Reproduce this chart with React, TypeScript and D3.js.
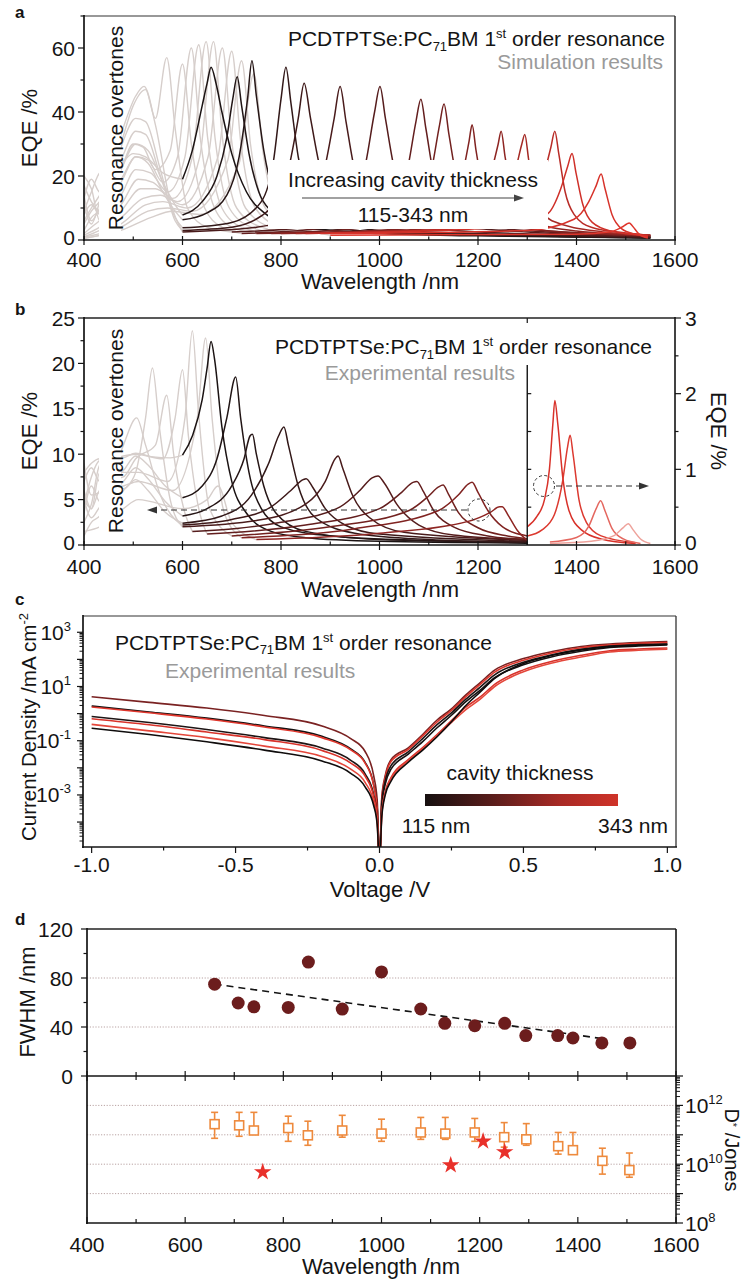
import React from "react";
import * as d3 from "d3";

type Pt = [number, number];

const FONT = "'Liberation Sans', Arial, Helvetica, sans-serif";

// ---------- shared ticks ----------
const wavelengthTicks = [400, 600, 800, 1000, 1200, 1400, 1600];
const wavelengthMinor = [500, 700, 900, 1100, 1300, 1500];

// ---------- panel a : simulated EQE ----------
const simEqeTicks = [0, 20, 40, 60];
const simEqeMinor = [10, 30, 50, 70];

const simResonance: Pt[][] = [
  [[600,19],[620,28],[640,42],[650,49],[658,54],[668,49],[680,40],[700,27],[730,15],[770,8],[820,4.5],[900,3],[1000,2.2],[1200,1.5],[1400,1],[1550,0.6]],
  [[600,7.8],[640,12],[670,20],[690,32],[702,44],[711,51],[720,42],[735,27],[755,15],[780,9],[830,5],[900,3],[1000,2],[1200,1.3],[1550,0.6]],
  [[600,6.3],[650,8.5],[690,14],[715,26],[732,44],[741,56],[750,45],[765,28],[785,15],[820,8],[880,4],[950,3],[1100,2],[1550,0.8]],
  [[600,3.8],[700,5.5],[760,12],[785,25],[800,44],[810,54],[820,43],[835,26],[860,13],[900,7],[950,4],[1100,2],[1550,0.8]],
  [[600,3],[700,4],[780,10],[815,22],[835,38],[847,49],[860,38],[880,22],[910,11],[960,5.5],[1050,3],[1200,2],[1550,0.8]],
  [[600,2.5],[750,4],[850,9],[888,22],[908,38],[920,48],[932,37],[952,20],[985,10],[1050,5],[1150,3],[1550,1]],
  [[700,2.5],[850,4],[940,10],[972,24],[990,40],[1001,48],[1012,38],[1035,19],[1075,9],[1150,4.5],[1300,2.5],[1550,1]],
  [[720,2],[900,4],[1020,9],[1058,23],[1074,37],[1084,44],[1094,35],[1115,17],[1155,8],[1250,3.5],[1550,1.2]],
  [[750,2],[950,3.5],[1075,9],[1107,23],[1122,36],[1131,42.5],[1141,33],[1162,16],[1200,8],[1300,3.5],[1550,1.3]],
  [[780,2],[1050,3.5],[1145,10],[1172,23],[1182,31],[1188,36],[1196,28],[1212,15],[1245,7],[1330,3],[1550,1.4]],
  [[800,2],[1100,3.5],[1205,10],[1230,23],[1241,30],[1247,34],[1255,26],[1272,13],[1305,6],[1400,2.8],[1550,1.5]],
  [[830,2],[1150,3.5],[1253,10],[1278,23],[1289,30],[1295,33],[1303,25],[1320,12],[1350,6],[1450,2.6],[1550,1.6]],
  [[850,2],[1200,4],[1300,9],[1333,20],[1348,29],[1356,34],[1364,27],[1377,15],[1395,8],[1430,4],[1500,2.2],[1545,1.5]],
  [[880,2],[1250,4],[1340,8],[1368,16],[1382,23],[1391,27],[1399,21],[1413,11],[1432,5.5],[1470,2.8],[1545,1.4]],
  [[900,2],[1300,3],[1395,6.5],[1425,12],[1440,17],[1450,20.6],[1458,16],[1472,8],[1492,3.5],[1520,1.8],[1545,1]],
  [[900,1.5],[1400,1.8],[1470,2.6],[1492,4],[1502,5],[1507,5.3],[1514,4.3],[1526,2],[1545,0.6]],
];

const simOvertones: Pt[][] = [
  [[400,9],[415,15],[432,21],[475,24],[500,27],[525,26],[560,21],[600,19]],
  [[400,17],[415,12],[432,9],[475,22],[505,30],[530,28],[560,18],[585,11],[600,7.8]],
  [[400,13],[415,19],[432,15],[475,19],[505,26],[530,24],[560,15],[585,9],[600,6.3]],
  [[400,6],[415,10],[432,14],[475,25],[505,34],[525,33],[555,20],[585,7],[600,3.8]],
  [[400,20],[415,16],[432,6],[475,29],[505,38],[525,37],[555,22],[585,6],[600,3]],
  [[400,11],[415,5],[432,12],[475,33],[505,45],[522,48],[545,36],[575,12],[600,2.5]],
  [[400,8],[415,11],[432,8],[475,30],[500,42],[525,47],[545,38],[568,57],[585,35],[610,10],[650,4],[700,2.5]],
  [[400,14],[415,6],[432,10],[475,22],[500,30],[520,29],[545,22],[575,28],[600,55],[618,30],[645,10],[680,4],[720,2]],
  [[400,5],[415,9],[432,12],[475,18],[505,26],[530,25],[560,18],[590,26],[618,60],[636,32],[665,10],[700,4],[750,2]],
  [[400,3],[415,7],[432,9],[475,14],[505,22],[535,21],[570,15],[605,26],[633,61],[651,32],[680,10],[720,4],[780,2]],
  [[400,2],[415,4],[432,6],[475,11],[510,19],[540,18],[580,13],[620,26],[648,62],[666,32],[695,10],[740,4],[800,2]],
  [[400,1.5],[432,4],[475,9],[515,16],[545,16],[590,12],[635,26],[663,62],[681,32],[710,10],[760,4],[830,2]],
  [[400,1],[432,3],[475,7],[520,13],[555,14],[600,11],[652,26],[681,60],[699,32],[728,10],[780,4],[850,2]],
  [[400,1],[432,2],[475,5],[525,11],[560,12],[610,10],[672,26],[700,59],[718,31],[748,10],[800,4],[880,2]],
  [[400,0.5],[432,1.5],[475,4],[530,9],[570,10],[620,9],[692,25],[720,56],[738,30],[768,10],[820,4],[900,2]],
  [[400,0.5],[475,3],[535,7],[580,9],[635,8],[715,24],[745,52],[763,28],[790,10],[840,4],[900,1.5]],
];

// ---------- panel b : experimental EQE ----------
const expEqeTicks = [0, 5, 10, 15, 20, 25];
const expEqeMinor = [2.5, 7.5, 12.5, 17.5, 22.5];
const expEqeRightTicks = [0, 1, 2, 3];
const expEqeRightMinor = [0.5, 1.5, 2.5];

const expResonanceLeft: Pt[][] = [
  [[600,9.9],[620,12],[640,16],[650,19.5],[658,22.4],[665,20.5],[680,13],[700,7],[730,3.5],[780,1.5],[850,0.8],[1000,0.4],[1300,0.2]],
  [[600,5.2],[640,6.5],[670,9.5],[690,14],[708,18.5],[718,14],[735,8],[760,4],[800,2],[900,1],[1100,0.5],[1300,0.3]],
  [[600,3.2],[650,4],[700,6.5],[725,9.5],[737,12],[742,12.2],[750,10],[765,6.5],[790,3.5],[850,1.5],[1000,0.6],[1300,0.3]],
  [[600,2.4],[680,3.2],[740,5.5],[775,9],[795,12],[806,13],[815,11],[835,6.5],[870,3],[950,1.3],[1100,0.6],[1300,0.3]],
  [[600,2.2],[700,2.8],[780,4.2],[820,6],[845,7.2],[851,7.3],[865,6.3],[890,4],[930,2.2],[1000,1.2],[1300,0.4]],
  [[600,2],[750,2.7],[850,4.5],[890,7],[910,9.5],[916,9.8],[925,8.5],[945,5.5],[980,3],[1050,1.4],[1300,0.5]],
  [[620,1.5],[800,2.5],[920,4.2],[960,6],[985,7.4],[997,7.6],[1010,6.8],[1035,4.5],[1080,2.2],[1150,1.1],[1300,0.6]],
  [[650,1.2],[850,2.2],[1000,4],[1045,5.8],[1068,6.9],[1076,7],[1088,6],[1110,3.8],[1150,2],[1220,1],[1300,0.6]],
  [[700,1],[900,2],[1060,3.8],[1100,5.4],[1120,6.4],[1129,6.6],[1140,5.6],[1160,3.6],[1200,1.9],[1260,1],[1300,0.7]],
  [[720,0.8],[950,1.8],[1120,3.8],[1160,5.5],[1180,6.7],[1188,6.9],[1200,5.8],[1220,3.8],[1250,2],[1300,1]],
  [[750,0.6],[1000,1.3],[1180,2.6],[1225,3.6],[1244,4.2],[1249,4.2],[1262,3.2],[1280,1.6],[1300,0.5]],
];

const expResonanceRight: Pt[][] = [
  [[1300,0.24],[1320,0.38],[1335,0.6],[1345,1.0],[1352,1.6],[1356,1.91],[1362,1.6],[1372,0.9],[1385,0.45],[1410,0.2],[1450,0.08],[1520,0.02]],
  [[1300,0.12],[1330,0.2],[1355,0.4],[1372,0.85],[1382,1.3],[1387,1.45],[1393,1.2],[1405,0.6],[1420,0.3],[1450,0.12],[1520,0.03]],
  [[1346,0.04],[1400,0.1],[1425,0.25],[1440,0.48],[1449,0.585],[1458,0.45],[1472,0.22],[1495,0.08],[1530,0.02]],
  [[1346,0.02],[1430,0.05],[1475,0.12],[1495,0.23],[1505,0.28],[1515,0.2],[1530,0.08],[1550,0.02]],
];
const expRightColors = ["#d8322a", "#dc3a30", "#e4675f", "#eea29b"];

const expOvertones: Pt[][] = [
  [[400,4.5],[415,7.5],[432,9.3],[480,9.6],[505,10.1],[540,9.7],[575,9.6],[600,9.9]],
  [[400,9],[415,5.5],[432,5.8],[480,8.2],[505,9.8],[530,8.8],[565,6.5],[600,5.2]],
  [[400,3.5],[415,6.5],[432,4.8],[480,7],[505,8.5],[530,7.3],[565,4.8],[600,3.2]],
  [[400,6],[415,4],[432,8],[480,6.2],[505,7.2],[530,6],[565,3.6],[600,2.4]],
  [[400,1],[415,2.5],[432,3.2],[480,11],[507,14],[525,11],[555,5.5],[585,2.8],[600,2.2]],
  [[400,5],[415,3],[432,4.2],[480,6],[505,8],[525,14],[539,19.5],[553,13],[575,5],[600,2]],
  [[400,7],[415,8.5],[432,7],[480,7.5],[505,9.5],[545,11],[568,16.5],[582,10],[605,3.5],[620,1.5]],
  [[400,2.5],[415,4.5],[432,8.8],[480,9.8],[505,10],[560,9.5],[585,14],[600,19.3],[612,12],[635,3.5],[650,1.2]],
  [[400,8],[415,9],[432,9.5],[480,8],[510,8],[570,7],[605,14],[620,23.6],[632,15],[655,4],[700,1]],
  [[400,5],[415,4],[432,6],[480,6.5],[510,7],[580,6],[630,14],[647,22.8],[660,14],[685,3.5],[720,0.8]],
  [[400,1.5],[432,2],[480,4],[510,5],[600,4],[650,5],[672,6.5],[700,2.5],[750,0.6]],
];

// ---------- panel c : J-V ----------
const voltageTicks = [-1, -0.5, 0, 0.5, 1];
const voltageMinor = [-0.75, -0.25, 0.25, 0.75];
const currentDecades = [-4, -3, -2, -1, 0, 1, 2, 3];
const currentLabelled = [3, 1, -1, -3];

const jvVoltage = [-1, -0.8, -0.6, -0.4, -0.2, -0.1, -0.05, -0.02, -0.008, 0, 0.008, 0.02, 0.04, 0.1, 0.15, 0.2, 0.25, 0.3, 0.35, 0.4, 0.5, 0.6, 0.7, 0.8, 0.9, 1.0];
const jvCurves: number[][] = [
  [4.2,2.6,1.6,0.85,0.35,0.12,0.04,0.005,0.00063,3e-6, 0.00083,0.0052,0.02,0.055,0.17,0.58,1.5,4.9,14,40,107,195,300,370,420,450],
  [1.9,1.15,0.68,0.35,0.145,0.05,0.016,0.0023,0.00034,3e-6, 0.0004,0.0025,0.0089,0.032,0.093,0.3,0.87,2.75,7.4,21,63,126,200,275,310,340],
  [1.75,1.07,0.63,0.32,0.13,0.046,0.015,0.0022,0.00032,3e-6, 0.00069,0.0044,0.017,0.048,0.15,0.49,1.3,4.2,12,34,93,174,270,340,390,415],
  [0.78,0.47,0.26,0.13,0.054,0.019,0.006,0.001,0.00017,3e-6, 0.00052,0.0033,0.012,0.039,0.12,0.39,1.07,3.4,9.5,27,78,148,234,310,350,370],
  [0.65,0.39,0.21,0.11,0.044,0.015,0.0049,0.00085,0.00015,3e-6, 0.00021,0.0013,0.0044,0.02,0.056,0.17,0.55,1.74,4.1,12,41,85,141,209,240,263],
  [0.4,0.23,0.13,0.063,0.026,0.0089,0.0029,0.00054,0.0001,3e-6, 0.0002,0.0012,0.0038,0.018,0.05,0.15,0.47,1.4,3.4,10,35,74,122,188,216,236],
  [0.29,0.17,0.091,0.045,0.018,0.0063,0.002,0.0004,0.00008,3e-6, 0.00016,0.001,0.0032,0.016,0.045,0.14,0.5,2.0,6.3,20,71,141,224,295,331,363],
];
const jvColors = ["#7a2222", "#151111", "#e0362c", "#1d1414", "#d8332b", "#e4473b", "#0f0c0c"];

// ---------- panel d : FWHM and D* ----------
const fwhmTicks = [0, 40, 80, 120];
const fwhmMinor = [20, 60, 100];
const fwhmWavelength = [660, 708, 740, 810, 851, 920, 1000, 1080, 1129, 1190, 1251, 1294, 1359, 1390, 1449, 1506];
const fwhmValue = [75, 59.6, 56.5, 56, 93, 54.6, 85, 54.7, 43, 41, 43, 33, 33, 31, 27, 27];
const fwhmFit: Pt[] = [[660, 75], [1450, 30.5]];

const detDecades = [8, 9, 10, 11, 12, 13];
const detLabelled = [12, 10, 8];
const detGrid = [1e9, 1e10, 1e11, 1e12];
const detWavelength = [660, 710, 740, 810, 850, 920, 1000, 1080, 1130, 1190, 1250, 1295, 1360, 1390, 1450, 1505];
const detValue = [2.3e11, 2.1e11, 1.4e11, 1.7e11, 9.6e10, 1.4e11, 1.1e11, 1.2e11, 1.1e11, 1.2e11, 8.3e10, 7e10, 4.1e10, 3e10, 1.3e10, 6.3e9];
const detHigh = [5.8e11, 5.8e11, 5.8e11, 4.3e11, 2.9e11, 4.6e11, 3.4e11, 3.9e11, 3.9e11, 3.6e11, 2.6e11, 2.4e11, 1.2e11, 1.2e11, 3.5e10, 2.4e10];
const detLow = [7.6e10, 8.9e10, 1.1e11, 6e10, 4.4e10, 8.3e10, 6e10, 7e10, 7e10, 6e10, 3.8e10, 4.4e10, 2.2e10, 2.2e10, 4.6e9, 3.6e9];
const starWavelength = [758, 1141, 1207, 1251];
const starValue = [5.4e9, 9.3e9, 6e10, 2.6e10];

const resColor = d3
  .scaleLinear<string>()
  .domain([0, 2, 6, 10, 13, 15])
  .range(["#1b1313", "#261616", "#551c1c", "#8e2522", "#cf3029", "#df362c"])
  .interpolate(d3.interpolateRgb);

const INK = "#141414";
const GREY_TXT = "#9a9a9a";
const OVERTONE = "#d6cecb";

function minorLog(decades: number[]): number[] {
  const out: number[] = [];
  for (let i = 0; i < decades.length - 1; i++) {
    for (let m = 2; m <= 9; m++) out.push(m * Math.pow(10, decades[i]));
  }
  return out;
}

export default function App() {
  const xA = d3.scaleLinear().domain([400, 1600]).range([84, 675]);
  const yA = d3.scaleLinear().domain([0, 70]).range([240, 16]);
  const yBL = d3.scaleLinear().domain([0, 25]).range([545, 318]);
  const yBR = d3.scaleLinear().domain([0, 3]).range([545, 318]);
  const xC = d3.scaleLinear().domain([-1.03, 1.03]).range([83, 676]);
  const yC = d3.scaleLog().domain([Math.pow(10, -4.92), Math.pow(10, 3.6)]).range([847, 616]);
  const xD = d3.scaleLinear().domain([400, 1600]).range([87, 676]);
  const yDt = d3.scaleLinear().domain([0, 120]).range([1076, 929]);
  const yDb = d3.scaleLog().domain([1e8, 1e13]).range([1223, 1076]);

  const mk = (xs: any, ys: any) =>
    d3.line<Pt>().x((d) => xs(d[0])).y((d) => ys(d[1])).curve(d3.curveMonotoneX);
  const lineA = mk(xA, yA);
  const lineBL = mk(xA, yBL);
  const lineBR = mk(xA, yBR);
  const lineC = mk(xC, yC);

  const tk = (key: string, x1: number, y1: number, x2: number, y2: number, w = 1.2) => (
    <line key={key} x1={x1} y1={y1} x2={x2} y2={y2} stroke={INK} strokeWidth={w} />
  );

  const starPath = d3.symbol().type(d3.symbolStar).size(95)() as string;

  const makeTitle = (sub: number) => (
    <>
      PCDTPTSe:PC<tspan dy={sub} fontSize={13}>71</tspan>
      <tspan dy={-sub}>BM 1</tspan>
      <tspan dy={-8} fontSize={13}>st</tspan>
      <tspan dy={8}> order resonance</tspan>
    </>
  );
  const title = makeTitle(5);

  const xBreak = xA(1300);
  const AX = 22; // axis title font size

  return (
    <svg
      width={746}
      height={1285}
      style={{ position: "absolute", left: 0, top: 0, background: "#fff" }}
      fontFamily={FONT}
    >
      <defs>
        <clipPath id="clipA"><rect x={84} y={16} width={591} height={224} /></clipPath>
        <clipPath id="clipBL"><rect x={84} y={318} width={xBreak - 84} height={227} /></clipPath>
        <clipPath id="clipBR"><rect x={xBreak} y={318} width={675 - xBreak} height={227} /></clipPath>
        <clipPath id="clipC"><rect x={83} y={616} width={593} height={231} /></clipPath>
        <linearGradient id="cbar" x1="0" x2="1" y1="0" y2="0">
          <stop offset="0" stopColor="#161010" />
          <stop offset="0.35" stopColor="#5a1d1b" />
          <stop offset="0.7" stopColor="#a82a25" />
          <stop offset="1" stopColor="#cf3329" />
        </linearGradient>
      </defs>
      <rect x={0} y={0} width={746} height={1285} fill="#fff" />

      {/* ================= PANEL A ================= */}
      <text x={15} y={18} fontSize={17} fontWeight="bold" fill={INK}>a</text>
      <g clipPath="url(#clipA)" fill="none" strokeWidth={1.4}>
        {simOvertones.map((c, i) => (
          <path key={"ga" + i} d={lineA(c) as string} stroke={OVERTONE} />
        ))}
        {simResonance.map((c, i) => (
          <path key={"ra" + i} d={lineA(c) as string} stroke={resColor(i)} strokeWidth={1.5} />
        ))}
      </g>
      {/* white masks */}
      <rect x={99} y={17} width={22} height={222} fill="#fff" />
      <rect x={268} y={160} width={280} height={69} fill="#fff" />
      <text transform="translate(123,128) rotate(-90)" textAnchor="middle" fontSize={21} fill={INK}>Resonance overtones</text>
      <text x={665} y={46} textAnchor="end" fontSize={21} fill={INK}>{title}</text>
      <text x={663} y={69} textAnchor="end" fontSize={21} fill={GREY_TXT}>Simulation results</text>
      <text x={413} y={187} textAnchor="middle" fontSize={21} fill={INK}>Increasing cavity thickness</text>
      <line x1={302} y1={198} x2={516} y2={198} stroke="#444" strokeWidth={1.2} />
      <path d="M524,198 L514,194.5 L514,201.5 Z" fill="#444" />
      <text x={413} y={222} textAnchor="middle" fontSize={21} fill={INK}>115-343 nm</text>
      {/* frame */}
      <line x1={84} y1={16} x2={675} y2={16} stroke="#333" strokeWidth={1.2} />
      <line x1={675} y1={16} x2={675} y2={240} stroke="#222" strokeWidth={1.4} />
      <line x1={84} y1={15} x2={84} y2={241} stroke={INK} strokeWidth={1.7} />
      <line x1={83} y1={240} x2={676} y2={240} stroke={INK} strokeWidth={1.7} />
      {simEqeTicks.map((v) => tk("at" + v, 78, yA(v), 84, yA(v)))}
      {simEqeMinor.map((v) => tk("am" + v, 80.5, yA(v), 84, yA(v)))}
      {simEqeTicks.map((v) => (
        <text key={"al" + v} x={75} y={yA(v) + (v === 0 ? 5 : 7.5)} textAnchor="end" fontSize={21} fill={INK}>{v}</text>
      ))}
      {wavelengthTicks.map((v) => tk("ab" + v, xA(v), 236, xA(v), 245))}
      {wavelengthMinor.map((v) => tk("abm" + v, xA(v), 236.5, xA(v), 240))}
      {wavelengthTicks.map((v) => (
        <text key={"abl" + v} x={xA(v)} y={267} textAnchor="middle" fontSize={21} fill={INK}>{v}</text>
      ))}
      <text x={380} y={289} textAnchor="middle" fontSize={AX} fill={INK}>Wavelength /nm</text>
      <text transform="translate(37,128) rotate(-90)" textAnchor="middle" fontSize={AX} fill={INK}>EQE /%</text>

      {/* ================= PANEL B ================= */}
      <text x={15} y={315} fontSize={17} fontWeight="bold" fill={INK}>b</text>
      <g clipPath="url(#clipBL)" fill="none" strokeWidth={1.4}>
        {expOvertones.map((c, i) => (
          <path key={"gb" + i} d={lineBL(c) as string} stroke={OVERTONE} />
        ))}
        {expResonanceLeft.map((c, i) => (
          <path key={"rb" + i} d={lineBL(c) as string} stroke={resColor(i)} strokeWidth={1.5} />
        ))}
      </g>
      <g clipPath="url(#clipBR)" fill="none" strokeWidth={1.5}>
        {expResonanceRight.map((c, i) => (
          <path key={"rbr" + i} d={lineBR(c) as string} stroke={expRightColors[i]} />
        ))}
      </g>
      <rect x={99} y={319} width={22} height={225} fill="#fff" />
      <text transform="translate(123,431) rotate(-90)" textAnchor="middle" fontSize={21} fill={INK}>Resonance overtones</text>
      <text x={652} y={354} textAnchor="end" fontSize={21} fill={INK}>{title}</text>
      <text x={515} y={380} textAnchor="end" fontSize={21} fill={GREY_TXT}>Experimental results</text>
      {/* dashed circles + arrows */}
      <circle cx={479} cy={510} r={11} fill="none" stroke="#333" strokeWidth={1} strokeDasharray="3,2.5" />
      <line x1={467} y1={510} x2={156} y2={510} stroke="#333" strokeWidth={1} strokeDasharray="6,4" />
      <path d="M147,510 L157,506.5 L157,513.5 Z" fill="#333" />
      <circle cx={544} cy={486} r={10.5} fill="none" stroke="#333" strokeWidth={1} strokeDasharray="3,2.5" />
      <line x1={556} y1={486} x2={640} y2={486} stroke="#333" strokeWidth={1} strokeDasharray="6,4" />
      <path d="M649,486 L639,482.5 L639,489.5 Z" fill="#333" />
      {/* break axis */}
      <line x1={xBreak} y1={yBR(2.38)} x2={xBreak} y2={545} stroke={INK} strokeWidth={1.4} />
      {[0.5, 1, 1.5, 2].map((v) => tk("brk" + v, xBreak, yBR(v), xBreak + 4, yBR(v)))}
      {tk("brtop", xBreak, 318, xBreak, 323)}
      {/* frame */}
      <line x1={84} y1={318} x2={675} y2={318} stroke="#222" strokeWidth={1.4} />
      <line x1={675} y1={317} x2={675} y2={546} stroke={INK} strokeWidth={1.6} />
      <line x1={84} y1={317} x2={84} y2={546} stroke={INK} strokeWidth={1.7} />
      <line x1={83} y1={545} x2={676} y2={545} stroke={INK} strokeWidth={1.7} />
      {expEqeTicks.map((v) => tk("bt" + v, 78, yBL(v), 84, yBL(v)))}
      {expEqeMinor.map((v) => tk("bm" + v, 80.5, yBL(v), 84, yBL(v)))}
      {expEqeTicks.map((v) => (
        <text key={"bl" + v} x={75} y={yBL(v) + (v === 0 ? 5 : 7.5)} textAnchor="end" fontSize={21} fill={INK}>{v}</text>
      ))}
      {expEqeRightTicks.map((v) => tk("brt" + v, 675, yBR(v), 681, yBR(v)))}
      {expEqeRightMinor.map((v) => tk("brm" + v, 675, yBR(v), 678.5, yBR(v)))}
      {expEqeRightTicks.map((v) => (
        <text key={"brl" + v} x={685} y={yBR(v) + (v === 0 ? 5 : 7.5)} fontSize={21} fill={INK}>{v}</text>
      ))}
      {wavelengthTicks.map((v) => tk("bb" + v, xA(v), 541, xA(v), 550))}
      {wavelengthMinor.map((v) => tk("bbm" + v, xA(v), 541.5, xA(v), 545))}
      {wavelengthTicks.map((v) => (
        <text key={"bbl" + v} x={xA(v)} y={574} textAnchor="middle" fontSize={21} fill={INK}>{v}</text>
      ))}
      <text x={380} y={597} textAnchor="middle" fontSize={AX} fill={INK}>Wavelength /nm</text>
      <text transform="translate(37,431) rotate(-90)" textAnchor="middle" fontSize={AX} fill={INK}>EQE /%</text>
      <text transform="translate(711,431) rotate(90)" textAnchor="middle" fontSize={AX} fill={INK}>EQE /%</text>

      {/* ================= PANEL C ================= */}
      <text x={15} y={605} fontSize={17} fontWeight="bold" fill={INK}>c</text>
      <g clipPath="url(#clipC)" fill="none" strokeWidth={1.6}>
        {jvCurves.map((c, i) => (
          <path
            key={"jv" + i}
            d={lineC(jvVoltage.map((v, k) => [v, c[k]] as Pt)) as string}
            stroke={jvColors[i]}
          />
        ))}
      </g>
      <text x={492} y={650} textAnchor="end" fontSize={21} fill={INK}>{makeTitle(4)}</text>
      <text x={165} y={678} fontSize={21} fill={GREY_TXT}>Experimental results</text>
      <text x={520} y={780} textAnchor="middle" fontSize={21} fill={INK}>cavity thickness</text>
      <rect x={425} y={794} width={193} height={12} fill="url(#cbar)" />
      <text x={436} y={833} textAnchor="middle" fontSize={21} fill={INK}>115 nm</text>
      <text x={668} y={833} textAnchor="end" fontSize={21} fill={INK}>343 nm</text>
      {/* frame */}
      <line x1={83} y1={616} x2={676} y2={616} stroke="#333" strokeWidth={1.2} />
      <line x1={676} y1={616} x2={676} y2={847} stroke="#333" strokeWidth={1.3} />
      <line x1={83} y1={615} x2={83} y2={848} stroke={INK} strokeWidth={1.7} />
      <line x1={82} y1={847} x2={677} y2={847} stroke={INK} strokeWidth={1.7} />
      {currentDecades.map((e) => tk("cd" + e, 77, yC(Math.pow(10, e)), 83, yC(Math.pow(10, e))))}
      {minorLog([-5, ...currentDecades])
        .filter((v) => v > Math.pow(10, -4.92) && v < Math.pow(10, 3.6))
        .map((v, i) => tk("cm" + i, 79.5, yC(v), 83, yC(v), 1))}
      {currentLabelled.map((e) => (
        <text key={"cl" + e} x={71} y={yC(Math.pow(10, e)) + 7.5} textAnchor="end" fontSize={21} fill={INK}>
          10<tspan dy={-9} fontSize={13}>{e}</tspan>
        </text>
      ))}
      {voltageTicks.map((v) => tk("cv" + v, xC(v), 847, xC(v), 853))}
      {voltageMinor.map((v) => tk("cvm" + v, xC(v), 847, xC(v), 850.5))}
      {voltageTicks.map((v) => (
        <text key={"cvl" + v} x={xC(v)} y={872} textAnchor="middle" fontSize={21} fill={INK}>{v.toFixed(1)}</text>
      ))}
      <text x={380} y={897} textAnchor="middle" fontSize={AX} fill={INK}>Voltage /V</text>
      <text transform="translate(36,727) rotate(-90)" textAnchor="middle" fontSize={20.5} fill={INK}>
        Current Density /mA cm<tspan dy={-8} fontSize={13}>-2</tspan>
      </text>

      {/* ================= PANEL D ================= */}
      <text x={15} y={925} fontSize={17} fontWeight="bold" fill={INK}>d</text>
      {/* gridlines */}
      {[40, 80].map((v) => (
        <line key={"dg" + v} x1={87} x2={676} y1={yDt(v)} y2={yDt(v)} stroke="#b9a3a3" strokeWidth={1} strokeDasharray="1.2,1.6" />
      ))}
      {detGrid.map((v, i) => (
        <line key={"dgb" + i} x1={87} x2={676} y1={yDb(v)} y2={yDb(v)} stroke="#b9a3a3" strokeWidth={1} strokeDasharray="1.2,1.6" />
      ))}
      {/* fit line */}
      <line
        x1={xD(fwhmFit[0][0])}
        y1={yDt(fwhmFit[0][1])}
        x2={xD(fwhmFit[1][0])}
        y2={yDt(fwhmFit[1][1])}
        stroke={INK}
        strokeWidth={1.6}
        strokeDasharray="7,5"
      />
      {fwhmWavelength.map((w, i) => (
        <circle key={"fw" + i} cx={xD(w)} cy={yDt(fwhmValue[i])} r={6.5} fill="#6c1d1d" />
      ))}
      {/* D* error bars and squares */}
      {detWavelength.map((w, i) => {
        const x = xD(w);
        return (
          <g key={"det" + i} stroke="#ee8a3d" strokeWidth={1.6} fill="#fff">
            <line x1={x} x2={x} y1={yDb(detHigh[i])} y2={yDb(detLow[i])} />
            <line x1={x - 3.5} x2={x + 3.5} y1={yDb(detHigh[i])} y2={yDb(detHigh[i])} />
            <line x1={x - 3.5} x2={x + 3.5} y1={yDb(detLow[i])} y2={yDb(detLow[i])} />
            <rect x={x - 4.5} y={yDb(detValue[i]) - 4.5} width={9} height={9} />
          </g>
        );
      })}
      {starWavelength.map((w, i) => (
        <path key={"st" + i} d={starPath} transform={`translate(${xD(w)},${yDb(starValue[i])})`} fill="#e8302a" />
      ))}
      {/* frame */}
      <line x1={87} y1={929} x2={676} y2={929} stroke="#222" strokeWidth={1.3} />
      <line x1={676} y1={929} x2={676} y2={1223} stroke={INK} strokeWidth={1.6} />
      <line x1={87} y1={928} x2={87} y2={1224} stroke={INK} strokeWidth={1.7} />
      <line x1={86} y1={1076} x2={677} y2={1076} stroke={INK} strokeWidth={1.7} />
      <line x1={86} y1={1223} x2={677} y2={1223} stroke={INK} strokeWidth={1.7} />
      {fwhmTicks.map((v) => tk("dt" + v, 81, yDt(v), 87, yDt(v)))}
      {fwhmMinor.map((v) => tk("dtm" + v, 83.5, yDt(v), 87, yDt(v)))}
      {fwhmTicks.map((v) => (
        <text key={"dtl" + v} x={73} y={yDt(v) + 7.5} textAnchor="end" fontSize={21} fill={INK}>{v}</text>
      ))}
      {wavelengthTicks.map((v) => tk("dmx" + v, xD(v), 1071, xD(v), 1081))}
      {wavelengthMinor.map((v) => tk("dmxm" + v, xD(v), 1072, xD(v), 1080))}
      {wavelengthTicks.map((v) => tk("dbx" + v, xD(v), 1217, xD(v), 1223))}
      {wavelengthMinor.map((v) => tk("dbxm" + v, xD(v), 1219, xD(v), 1223))}
      {wavelengthTicks.map((v) => (
        <text key={"dbl" + v} x={xD(v)} y={1252} textAnchor="middle" fontSize={21} fill={INK}>{v}</text>
      ))}
      <text x={381} y={1274} textAnchor="middle" fontSize={AX} fill={INK}>Wavelength /nm</text>
      {detDecades.map((e) => tk("dd" + e, 676, yDb(Math.pow(10, e)), 683, yDb(Math.pow(10, e))))}
      {minorLog(detDecades).map((v, i) => tk("ddm" + i, 676, yDb(v), 680, yDb(v), 1))}
      {detLabelled.map((e) => (
        <text key={"ddl" + e} x={685} y={yDb(Math.pow(10, e)) + 7.5} fontSize={21} fill={INK}>
          10<tspan dy={-9} fontSize={13}>{e}</tspan>
        </text>
      ))}
      <text transform="translate(35,1002) rotate(-90)" textAnchor="middle" fontSize={AX} fill={INK}>FWHM /nm</text>
      <text transform="translate(725,1150) rotate(90)" textAnchor="middle" fontSize={20} fill={INK}>
        D<tspan dy={-4} fontSize={11}>*</tspan>
        <tspan dy={4}> /Jones</tspan>
      </text>
    </svg>
  );
}
